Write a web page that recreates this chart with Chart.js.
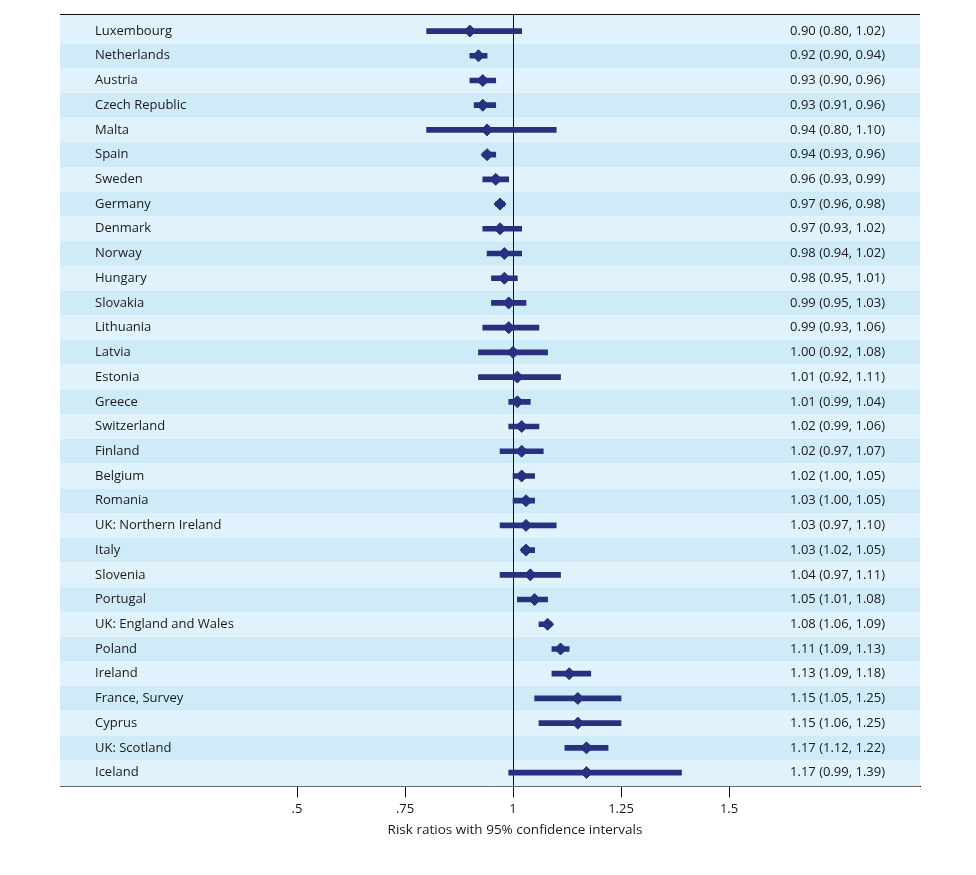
<!DOCTYPE html>
<html>
<head>
<meta charset="utf-8">
<script src="https://cdn.jsdelivr.net/npm/chart.js@4/dist/chart.umd.min.js"></script>
<style>
  html, body { margin: 0; padding: 0; background: #ffffff; }
  #wrap { width: 976px; height: 875px; }
</style>
</head>
<body>
<div id="wrap"><canvas id="c" width="976" height="875"></canvas></div>
<script>
const countries = ["Luxembourg","Netherlands","Austria","Czech Republic","Malta","Spain","Sweden","Germany","Denmark","Norway","Hungary","Slovakia","Lithuania","Latvia","Estonia","Greece","Switzerland","Finland","Belgium","Romania","UK: Northern Ireland","Italy","Slovenia","Portugal","UK: England and Wales","Poland","Ireland","France, Survey","Cyprus","UK: Scotland","Iceland"];
const riskRatio = [0.90,0.92,0.93,0.93,0.94,0.94,0.96,0.97,0.97,0.98,0.98,0.99,0.99,1.00,1.01,1.01,1.02,1.02,1.02,1.03,1.03,1.03,1.04,1.05,1.08,1.11,1.13,1.15,1.15,1.17,1.17];
const ciLow = [0.80,0.90,0.90,0.91,0.80,0.93,0.93,0.96,0.93,0.94,0.95,0.95,0.93,0.92,0.92,0.99,0.99,0.97,1.00,1.00,0.97,1.02,0.97,1.01,1.06,1.09,1.09,1.05,1.06,1.12,0.99];
const ciHigh = [1.02,0.94,0.96,0.96,1.10,0.96,0.99,0.98,1.02,1.02,1.01,1.03,1.06,1.08,1.11,1.04,1.06,1.07,1.05,1.05,1.10,1.05,1.11,1.08,1.09,1.13,1.18,1.25,1.25,1.22,1.39];
const tickValues = [0.5, 0.75, 1, 1.25, 1.5];
const tickLabels = [".5", ".75", "1", "1.25", "1.5"];
const axisTitle = "Risk ratios with 95% confidence intervals";

const markColor = "#283080";
const bandLight = "#e0f3fc";
const bandDark = "#d0ebf8";
const FONT = "'Open Sans', 'Noto Sans', sans-serif";

const bandsPlugin = {
  id: "bands",
  beforeDatasetsDraw(chart) {
    const { ctx, chartArea, scales } = chart;
    const ys = scales.y;
    ctx.save();
    for (let i = 0; i < countries.length; i++) {
      let top = ys.getPixelForValue(i - 0.5);
      let bot = ys.getPixelForValue(i + 0.5);
      if (i === 0) top = chartArea.top + 1;
      if (i === countries.length - 1) bot = chartArea.bottom;
      ctx.fillStyle = i % 2 === 0 ? bandLight : bandDark;
      ctx.fillRect(chartArea.left, top, chartArea.right - chartArea.left, bot - top);
    }
    const x1 = scales.x.getPixelForValue(1);
    ctx.strokeStyle = "#111111";
    ctx.lineWidth = 1;
    ctx.beginPath();
    ctx.moveTo(Math.round(x1) + 0.5, chartArea.top);
    ctx.lineTo(Math.round(x1) + 0.5, chartArea.bottom);
    ctx.stroke();
    ctx.restore();
  },
  afterDraw(chart) {
    const { ctx, chartArea, scales } = chart;
    const ys = scales.y;
    ctx.save();
    ctx.strokeStyle = "#111111";
    ctx.lineWidth = 1;
    ctx.beginPath();
    ctx.moveTo(chartArea.left, Math.round(chartArea.top) + 0.5);
    ctx.lineTo(chartArea.right, Math.round(chartArea.top) + 0.5);
    ctx.stroke();
    ctx.font = "13px " + FONT;
    ctx.fillStyle = "#1a1a1a";
    ctx.textBaseline = "middle";
    for (let i = 0; i < countries.length; i++) {
      const y = ys.getPixelForValue(i);
      ctx.textAlign = "left";
      ctx.fillText(countries[i], chartArea.left + 35, y);
      ctx.textAlign = "right";
      const txt = riskRatio[i].toFixed(2) + " (" + ciLow[i].toFixed(2) + ", " + ciHigh[i].toFixed(2) + ")";
      ctx.fillText(txt, chartArea.right - 35, y);
    }
    ctx.font = "13.5px " + FONT;
    ctx.textAlign = "center";
    ctx.fillText(axisTitle, scales.x.getPixelForValue(1) + 2, chartArea.bottom + 44);
    ctx.restore();
  }
};

const barData = countries.map((c, i) => ({ y: i, x: [ciLow[i], ciHigh[i]] }));
const pointData = countries.map((c, i) => ({ y: i, x: riskRatio[i] }));

new Chart(document.getElementById("c"), {
  type: "bar",
  data: {
    datasets: [
      {
        type: "bar",
        indexAxis: "y",
        data: barData,
        backgroundColor: markColor,
        borderWidth: 0,
        barThickness: 5,
        borderSkipped: false
      },
      {
        type: "scatter",
        data: pointData,
        pointStyle: "rectRot",
        pointRadius: 6,
        pointBackgroundColor: markColor,
        pointBorderColor: markColor,
        pointBorderWidth: 1
      }
    ]
  },
  options: {
    responsive: false,
    animation: false,
    indexAxis: "y",
    layout: { padding: { left: 60, right: 56, top: 14, bottom: 54 } },
    plugins: { legend: { display: false }, tooltip: { enabled: false } },
    scales: {
      x: {
        type: "linear",
        position: "bottom",
        min: -0.0486,
        max: 1.942,
        offset: false,
        afterBuildTicks(axis) { axis.ticks = tickValues.map(v => ({ value: v })); },
        ticks: {
          callback(v) { const k = tickValues.indexOf(v); return k >= 0 ? tickLabels[k] : ""; },
          color: "#1a1a1a",
          font: { family: FONT, size: 13 },
          padding: 4,
          maxRotation: 0,
          autoSkip: false
        },
        grid: {
          offset: false,
          drawOnChartArea: false,
          drawTicks: true,
          tickLength: 11,
          tickColor: (c) => (c.tick && tickValues.includes(c.tick.value)) ? "#111111" : "rgba(0,0,0,0)",
          tickWidth: 1
        },
        border: { display: true, color: "#111111", width: 1 },
        title: { display: false }
      },
      y: {
        type: "linear",
        reverse: true,
        min: -0.69,
        max: 30.56,
        offset: false,
        grid: { offset: false },
        display: false
      }
    }
  },
  plugins: [bandsPlugin]
});
</script>
</body>
</html>
